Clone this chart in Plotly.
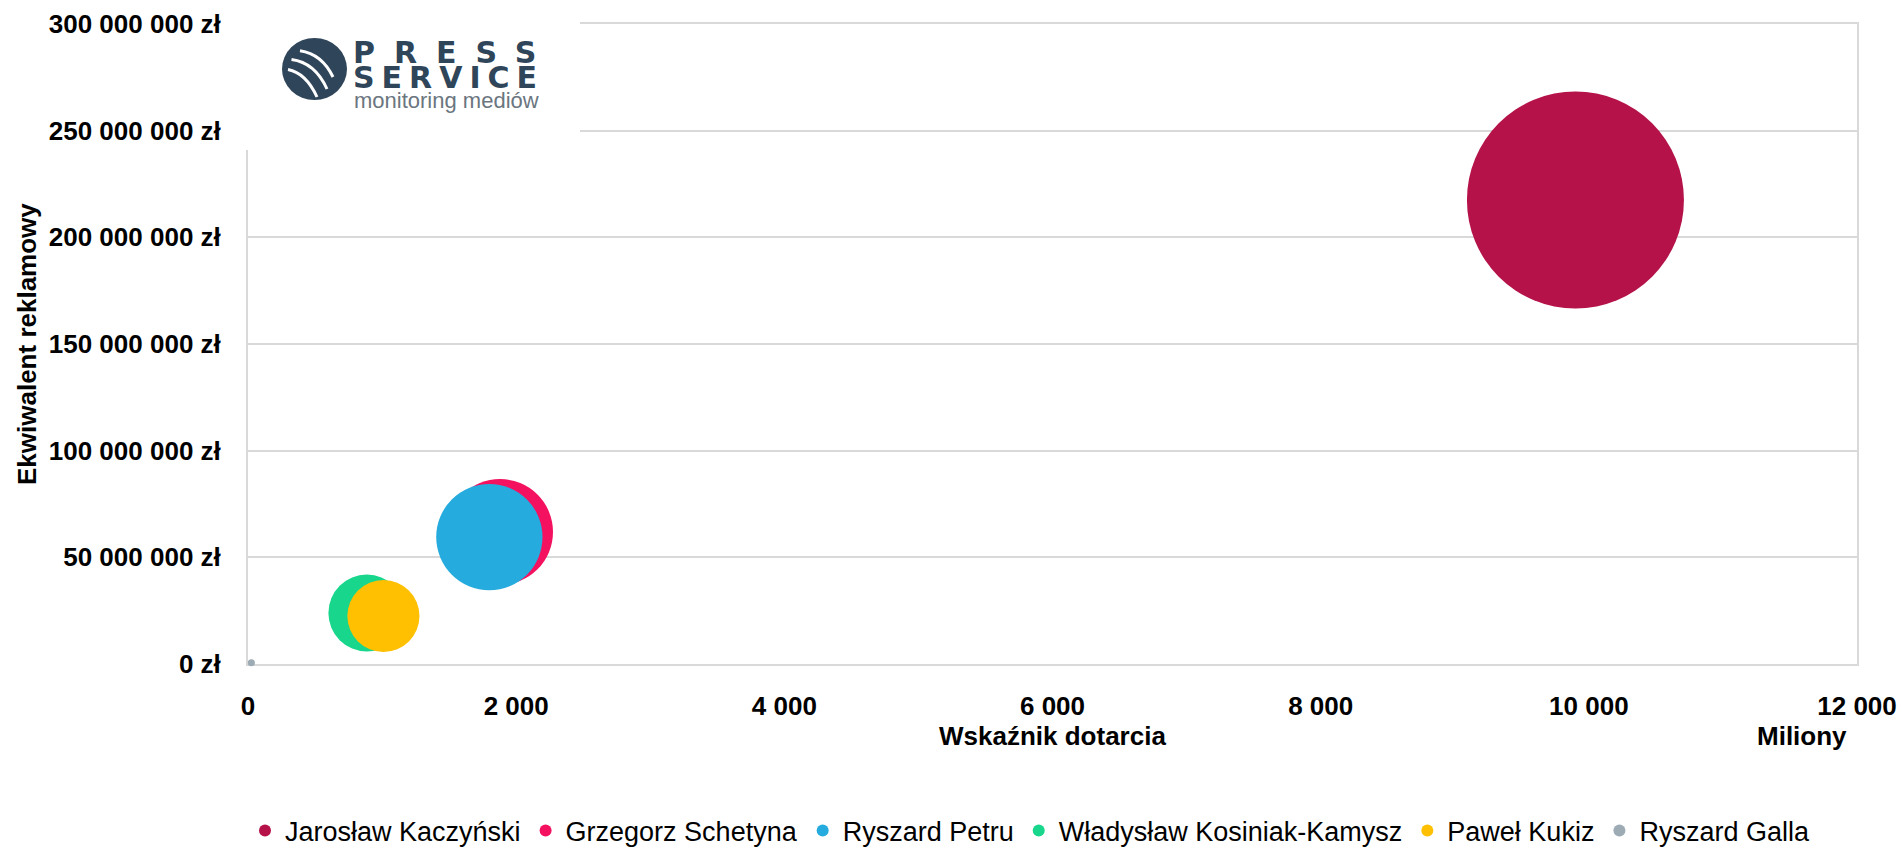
import plotly.graph_objects as go

# --- data ---
politycy = [
    "Jarosław Kaczyński",
    "Grzegorz Schetyna",
    "Ryszard Petru",
    "Władysław Kosiniak-Kamysz",
    "Paweł Kukiz",
    "Ryszard Galla",
]
# Wskaźnik dotarcia (miliony)
dotarcie_mln = [9900, 1880, 1800, 886, 1010, 25]
# Ekwiwalent reklamowy (zł)
ekwiwalent_zl = [217_500_000, 61_900_000, 59_500_000, 23_900_000, 22_500_000, 600_000]
# wielkość bąbla (proporcjonalna do pola)
wielkosc = [4710, 1120, 1130, 590, 520, 5]
kolory = ["#B41248", "#F31160", "#25ABDD", "#18D68B", "#FEC000", "#9DABB5"]

W, H = 1903, 848
L, R, T, B = 248, 46, 24, 184
PW = W - L - R
PH = H - T - B


def px(x):
    return (x - L) / PW


def py(y):
    return (H - B - y) / PH


FONT = "Liberation Sans, Arial, sans-serif"
GRID = "#d9d9d9"
LOGO = "#2f4559"

max_d = 217
sizeref = 2.0 * max(wielkosc) / (max_d ** 2)

fig = go.Figure()

for name, x, y, s, c in zip(politycy, dotarcie_mln, ekwiwalent_zl, wielkosc, kolory):
    fig.add_trace(
        go.Scatter(
            x=[x],
            y=[y],
            mode="markers",
            name=name,
            marker=dict(
                size=[s],
                sizemode="area",
                sizeref=sizeref,
                color=c,
                opacity=1,
                line=dict(width=0),
            ),
            cliponaxis=False,
        )
    )

# logo: white box over the top-left corner of the plot
shapes = [
    dict(type="rect", xref="paper", yref="paper",
         x0=px(236), x1=px(580), y0=py(150), y1=py(0),
         fillcolor="white", line=dict(width=0), layer="above"),
    dict(type="circle", xref="paper", yref="paper",
         x0=px(282), x1=px(347), y0=py(100), y1=py(38),
         fillcolor=LOGO, line=dict(width=0), layer="above"),
]


def arc(p0, p1, p2):
    return "M {} {} Q {} {} {} {}".format(
        px(p0[0]), py(p0[1]), px(p1[0]), py(p1[1]), px(p2[0]), py(p2[1])
    )


for a in [
    ((300, 50.7), (322, 54), (333, 77)),
    ((291.5, 59.5), (315, 62.5), (327, 89)),
    ((288, 69.5), (306, 73), (317, 97)),
]:
    shapes.append(dict(type="path", xref="paper", yref="paper", path=arc(*a),
                       line=dict(color="white", width=3), layer="above"))


def note(text, x, y, size=26, color="black", weight="bold", family=FONT,
         xanchor="center", angle=0):
    return dict(text=text, xref="paper", yref="paper", x=px(x), y=py(y),
                xanchor=xanchor, yanchor="middle", showarrow=False,
                textangle=angle,
                font=dict(family=family, size=size, color=color, weight=weight))


annotations = [
    note("<span style='letter-spacing:19px'>PRESS</span>", 351, 53, size=30,
         color=LOGO, family="DejaVu Sans", xanchor="left"),
    note("<span style='letter-spacing:7px'>SERVICE</span>", 351, 77.5, size=30,
         color=LOGO, family="DejaVu Sans", xanchor="left"),
    note("monitoring mediów", 352, 100.5, size=22, color="#6b7680",
         weight="normal", xanchor="left"),
    note("Wskaźnik dotarcia", 1052, 735.5),
    note("Miliony", 1802, 735.5),
    note("Ekwiwalent reklamowy", 27, 344, angle=-90),
]

fig.update_layout(
    width=W,
    height=H,
    margin=dict(l=L, r=R, t=T, b=B, autoexpand=False),
    paper_bgcolor="white",
    plot_bgcolor="white",
    separators=", ",
    font=dict(family=FONT, color="black"),
    shapes=shapes,
    annotations=annotations,
    showlegend=True,
    legend=dict(
        orientation="h",
        x=px(1030),
        xanchor="center",
        y=py(831),
        yanchor="middle",
        itemsizing="constant",
        font=dict(family=FONT, size=27, color="black"),
        traceorder="normal",
    ),
    xaxis=dict(
        range=[0, 12000],
        dtick=2000,
        tickformat=",d",
        showgrid=False,
        zeroline=False,
        showline=True,
        mirror=True,
        linecolor=GRID,
        linewidth=2,
        ticks="",
        ticklabelstandoff=18,
        automargin=False,
        tickfont=dict(family=FONT, size=26, color="black", weight="bold"),
        layer="below traces",
    ),
    yaxis=dict(
        range=[0, 300_000_000],
        dtick=50_000_000,
        tickformat=",d",
        ticksuffix=" zł",
        showgrid=True,
        gridcolor=GRID,
        gridwidth=2,
        zeroline=False,
        showline=True,
        mirror=True,
        linecolor=GRID,
        linewidth=2,
        ticks="",
        ticklabelstandoff=20,
        automargin=False,
        tickfont=dict(family=FONT, size=26, color="black", weight="bold"),
        layer="below traces",
    ),
)

# drop the page's default body margin so the figure fills the window exactly
fig.write_html(
    "out.html",
    config={"displayModeBar": False},
    post_script="document.body.style.margin='0';",
)
